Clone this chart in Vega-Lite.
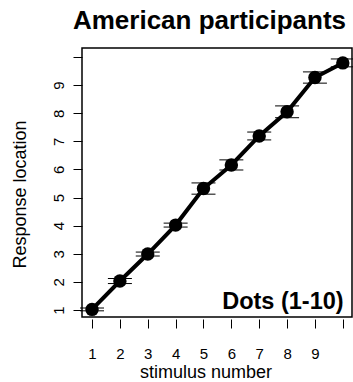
{
  "$schema": "https://vega.github.io/schema/vega-lite/v6.json",
  "width": 270,
  "height": 269,
  "autosize": {"type": "none"},
  "padding": {"left": 82, "top": 48, "right": 1, "bottom": 65},
  "background": "white",
  "config": {
    "font": "Liberation Sans",
    "view": {"stroke": "black", "strokeWidth": 1.5},
    "axis": {
      "grid": false,
      "domain": false,
      "tickColor": "black",
      "tickWidth": 1,
      "tickSize": 9,
      "labelColor": "black",
      "labelFont": "Liberation Sans",
      "labelFontSize": 15,
      "labelOverlap": false,
      "titleColor": "black",
      "titleFont": "Liberation Sans",
      "titleFontSize": 18,
      "titleFontWeight": "normal"
    }
  },
  "title": {
    "text": "American participants",
    "font": "Liberation Sans",
    "fontSize": 26,
    "fontWeight": "bold",
    "color": "black",
    "anchor": "middle",
    "frame": "group",
    "offset": 14,
    "dx": -7.5
  },
  "data": {
    "values": [
      {"stimulus": 1, "response": 1.02, "se": 0.05},
      {"stimulus": 2, "response": 2.03, "se": 0.09},
      {"stimulus": 3, "response": 2.99, "se": 0.07},
      {"stimulus": 4, "response": 4.02, "se": 0.07},
      {"stimulus": 5, "response": 5.32, "se": 0.2},
      {"stimulus": 6, "response": 6.16, "se": 0.18},
      {"stimulus": 7, "response": 7.19, "se": 0.14},
      {"stimulus": 8, "response": 8.05, "se": 0.21},
      {"stimulus": 9, "response": 9.27, "se": 0.2},
      {"stimulus": 10, "response": 9.79, "se": 0.14}
    ]
  },
  "transform": [
    {"calculate": "datum.response - datum.se", "as": "lo"},
    {"calculate": "datum.response + datum.se", "as": "hi"}
  ],
  "encoding": {
    "x": {
      "field": "stimulus",
      "type": "quantitative",
      "scale": {"domain": [0.64, 10.33], "nice": false, "zero": false},
      "axis": {
        "title": "stimulus number",
        "values": [1, 2, 3, 4, 5, 6, 7, 8, 9, 10],
        "labelExpr": "datum.value == 10 ? '' : datum.label",
        "labelOverlap": false,
        "offset": 2,
        "labelBaseline": "alphabetic",
        "labelPadding": 30,
        "titleX": 123.5,
        "titleY": 58,
        "titleBaseline": "alphabetic",
        "titleAnchor": null
      }
    },
    "y": {
      "field": "response",
      "type": "quantitative",
      "scale": {"domain": [0.75, 10.32], "nice": false, "zero": false},
      "axis": {
        "title": "Response location",
        "values": [1, 2, 3, 4, 5, 6, 7, 8, 9, 10],
        "labelExpr": "datum.value == 10 ? '' : datum.label",
        "labelOverlap": false,
        "labelAngle": -90,
        "labelAlign": "center",
        "labelBaseline": "bottom",
        "labelPadding": 7,
        "titleAngle": -90,
        "titleX": -57,
        "titleY": 146,
        "titleBaseline": "alphabetic",
        "titleAlign": "center"
      }
    }
  },
  "layer": [
    {
      "mark": {"type": "line", "color": "black", "strokeWidth": 4},
      "encoding": {}
    },
    {
      "mark": {"type": "rule", "color": "black", "strokeWidth": 1},
      "encoding": {
        "y": {"field": "lo", "type": "quantitative"},
        "y2": {"field": "hi"}
      }
    },
    {
      "mark": {"type": "tick", "orient": "horizontal", "color": "black", "opacity": 1, "size": 24, "thickness": 1},
      "encoding": {"y": {"field": "lo", "type": "quantitative"}}
    },
    {
      "mark": {"type": "tick", "orient": "horizontal", "color": "black", "opacity": 1, "size": 24, "thickness": 1},
      "encoding": {"y": {"field": "hi", "type": "quantitative"}}
    },
    {
      "mark": {"type": "circle", "color": "black", "opacity": 1, "size": 180},
      "encoding": {}
    },
    {
      "data": {"values": [{"label": "Dots (1-10)", "lx": 10.03, "ly": 1.04}]},
      "mark": {
        "type": "text",
        "align": "right",
        "baseline": "alphabetic",
        "font": "Liberation Sans",
        "fontSize": 23.5,
        "fontWeight": "bold",
        "color": "black"
      },
      "encoding": {
        "x": {"field": "lx", "type": "quantitative"},
        "y": {"field": "ly", "type": "quantitative"},
        "text": {"field": "label"}
      }
    }
  ]
}
